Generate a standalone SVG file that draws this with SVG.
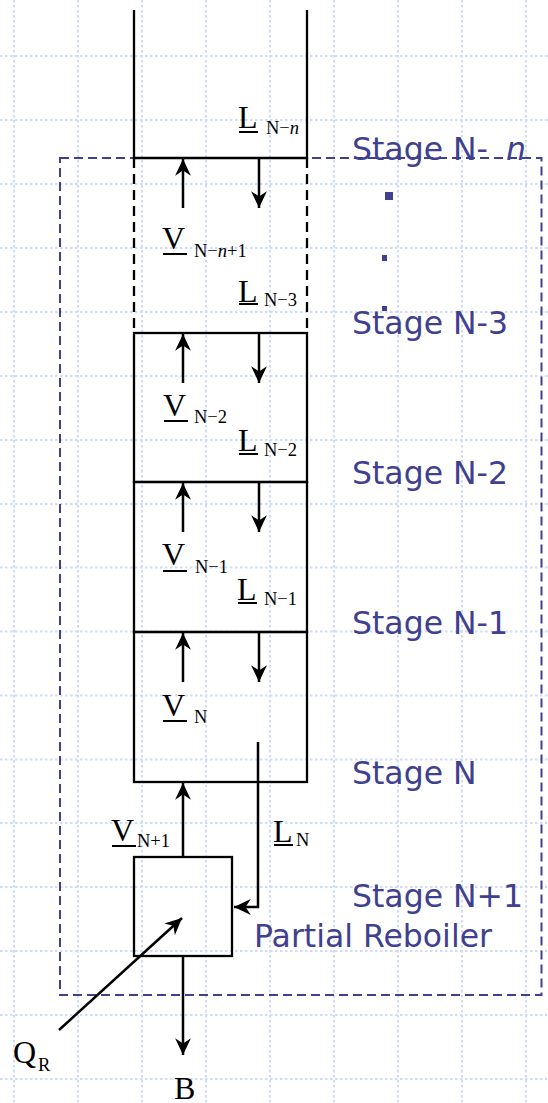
<svg xmlns="http://www.w3.org/2000/svg" width="548" height="1103" viewBox="0 0 548 1103">
  <defs>
    <marker id="head" markerUnits="userSpaceOnUse" markerWidth="20" markerHeight="20" viewBox="-17 -9 19 18" refX="0" refY="0" orient="auto">
      <path d="M0,0 L-16,-7.5 L-11,0 L-16,7.5 Z" fill="#000"/>
    </marker>
  </defs>
  <style>
    .grid line { stroke: #cfdcf7; stroke-width: 2; stroke-dasharray: 2.5 2.5; }
    .wall { stroke: #000; stroke-width: 2.3; fill: none; }
    .dash { stroke: #000; stroke-width: 2.3; fill: none; stroke-dasharray: 10 6; }
    .region { stroke: #404090; stroke-width: 2; fill: none; stroke-dasharray: 9 5; }
    .flow { stroke: #000; stroke-width: 2.5; fill: none; marker-end: url(#head); }
    .sym { font-family: "Liberation Serif", "Times New Roman", serif; font-size: 32px; fill: #000; }
    .sub { font-size: 18.5px; }
    .ul { stroke: #000; stroke-width: 2; }
    .stage { font-family: "DejaVu Sans", Verdana, sans-serif; font-size: 31.5px; fill: #404090; }
  </style>

  <rect width="548" height="1103" fill="#fff"/>

  <!-- dotted background grid -->
  <g class="grid">
    <line x1="14" y1="0" x2="14" y2="1103"/>
    <line x1="78" y1="0" x2="78" y2="1103"/>
    <line x1="142" y1="0" x2="142" y2="1103"/>
    <line x1="206" y1="0" x2="206" y2="1103"/>
    <line x1="270" y1="0" x2="270" y2="1103"/>
    <line x1="334" y1="0" x2="334" y2="1103"/>
    <line x1="398" y1="0" x2="398" y2="1103"/>
    <line x1="462" y1="0" x2="462" y2="1103"/>
    <line x1="526" y1="0" x2="526" y2="1103"/>
    <line x1="0" y1="56" x2="548" y2="56"/>
    <line x1="0" y1="120" x2="548" y2="120"/>
    <line x1="0" y1="184" x2="548" y2="184"/>
    <line x1="0" y1="248" x2="548" y2="248"/>
    <line x1="0" y1="312" x2="548" y2="312"/>
    <line x1="0" y1="376" x2="548" y2="376"/>
    <line x1="0" y1="440" x2="548" y2="440"/>
    <line x1="0" y1="504" x2="548" y2="504"/>
    <line x1="0" y1="567.5" x2="548" y2="567.5"/>
    <line x1="0" y1="631.5" x2="548" y2="631.5"/>
    <line x1="0" y1="695.5" x2="548" y2="695.5"/>
    <line x1="0" y1="759.5" x2="548" y2="759.5"/>
    <line x1="0" y1="823" x2="548" y2="823"/>
    <line x1="0" y1="887" x2="548" y2="887"/>
    <line x1="0" y1="951" x2="548" y2="951"/>
    <line x1="0" y1="1015" x2="548" y2="1015"/>
    <line x1="0" y1="1079" x2="548" y2="1079"/>
  </g>

  <!-- control envelope around the lower section -->
  <rect id="envelope" class="region" x="60" y="158" width="481.5" height="837"/>

  <!-- column above the section -->
  <g id="column-top">
    <path class="wall" d="M134,10 V158 H307 V10"/>
  </g>

  <!-- stages N-n+1 ... N-3 (not drawn individually) -->
  <g id="stage-N-n">
    <line class="dash" x1="134" y1="158" x2="134" y2="333"/>
    <line class="dash" x1="307" y1="158" x2="307" y2="333"/>
  </g>

  <g id="stage-N-2">
    <rect class="wall" x="134" y="333" width="173" height="149"/>
  </g>
  <g id="stage-N-1">
    <rect class="wall" x="134" y="482" width="173" height="150"/>
  </g>
  <g id="stage-N">
    <rect class="wall" x="134" y="632" width="173" height="150"/>
  </g>

  <g id="reboiler">
    <rect class="wall" x="134" y="857" width="98" height="99"/>
  </g>

  <!-- vapour and liquid streams -->
  <g id="connectors">
    <line class="flow" x1="183" y1="208" x2="183" y2="159"/>
    <line class="flow" x1="259" y1="159" x2="259" y2="208"/>
    <line class="flow" x1="183" y1="383" x2="183" y2="334"/>
    <line class="flow" x1="259" y1="334" x2="259" y2="383"/>
    <line class="flow" x1="183" y1="532" x2="183" y2="483"/>
    <line class="flow" x1="259" y1="483" x2="259" y2="532"/>
    <line class="flow" x1="183" y1="682" x2="183" y2="633"/>
    <line class="flow" x1="259" y1="633" x2="259" y2="682"/>
    <line class="flow" x1="183" y1="857" x2="183" y2="783"/>
    <path class="flow" d="M258,742 V907 H234"/>
    <line class="flow" x1="59" y1="1030" x2="182" y2="918"/>
    <line class="flow" x1="183" y1="956" x2="183" y2="1055"/>
  </g>

  <!-- stream labels -->
  <g id="labels">
    <text class="sym" x="238" y="128">L<tspan class="sub" x="266" y="134">N−<tspan font-style="italic">n</tspan></tspan></text>
    <line class="ul" x1="239" y1="132" x2="258" y2="132"/>

    <text class="sym" x="162" y="249">V<tspan class="sub" x="194" y="257">N−<tspan font-style="italic">n</tspan>+1</tspan></text>
    <line class="ul" x1="163" y1="254" x2="187" y2="254"/>

    <text class="sym" x="238" y="302">L<tspan class="sub" x="264" y="306">N−3</tspan></text>
    <line class="ul" x1="239" y1="304" x2="258" y2="304"/>

    <text class="sym" x="163" y="416">V<tspan class="sub" x="194" y="423">N−2</tspan></text>
    <line class="ul" x1="164" y1="421" x2="188" y2="421"/>

    <text class="sym" x="238" y="451">L<tspan class="sub" x="264" y="456">N−2</tspan></text>
    <line class="ul" x1="239" y1="454" x2="258" y2="454"/>

    <text class="sym" x="162" y="565">V<tspan class="sub" x="195" y="573">N−1</tspan></text>
    <line class="ul" x1="163" y1="571" x2="187" y2="571"/>

    <text class="sym" x="237" y="600">L<tspan class="sub" x="264" y="605">N−1</tspan></text>
    <line class="ul" x1="238" y1="603" x2="257" y2="603"/>

    <text class="sym" x="162" y="716">V<tspan class="sub" x="194" y="723">N</tspan></text>
    <line class="ul" x1="163" y1="721" x2="187" y2="721"/>

    <text class="sym" x="111" y="841">V<tspan class="sub" x="137" y="847">N+1</tspan></text>
    <line class="ul" x1="112" y1="846" x2="136" y2="846"/>

    <text class="sym" x="273" y="842">L<tspan class="sub" x="296" y="846">N</tspan></text>
    <line class="ul" x1="274" y1="845" x2="293" y2="845"/>

    <text class="sym" x="13" y="1063">Q<tspan class="sub" x="38" y="1071">R</tspan></text>
    <text class="sym" x="174" y="1099">B</text>
  </g>

  <!-- stage captions -->
  <g id="captions">
    <text class="stage" x="352" y="160">Stage N-<tspan x="506" font-style="italic">n</tspan></text>
    <rect x="385" y="192" width="8" height="8" fill="#404090"/>
    <rect x="382" y="255" width="5" height="6" fill="#404090"/>
    <rect x="382" y="306" width="5" height="5" fill="#404090"/>
    <text class="stage" x="352" y="334">Stage N-3</text>
    <text class="stage" x="352" y="484">Stage N-2</text>
    <text class="stage" x="352" y="634">Stage N-1</text>
    <text class="stage" x="352" y="784">Stage N</text>
    <text class="stage" x="352" y="907">Stage N+1</text>
    <text class="stage" x="254" y="947">Partial Reboiler</text>
  </g>
</svg>
